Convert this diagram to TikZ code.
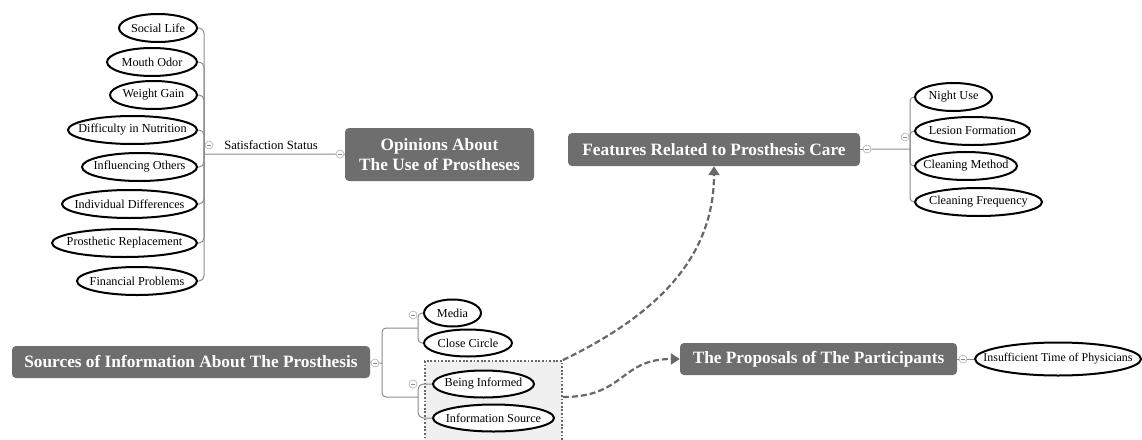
\documentclass[tikz,border=0pt]{standalone}
\usepackage{fontspec}
\setmainfont{Liberation Serif}
\usetikzlibrary{shapes.geometric,arrows.meta}
\definecolor{boxgray}{HTML}{6E6E6E}
\definecolor{linegray}{HTML}{8C8C8C}
\definecolor{dashgray}{HTML}{686868}
\begin{document}
\begin{tikzpicture}[x=1pt,y=-1pt,
  el/.style={ellipse, draw=black, line width=2pt, fill=white, inner xsep=-80pt, inner ysep=-30pt,
    minimum height=28pt, font=\fontsize{12.2}{13}\selectfont},
  box/.style={rectangle, rounded corners=4pt, fill=boxgray, text=white, inner sep=0pt,
    font=\fontsize{17.3}{20}\selectfont\bfseries, align=center},
  conn/.style={draw=linegray, line width=1pt},
  coll/.style={circle, draw=linegray!70, line width=0.6pt, minimum size=8pt, inner sep=0pt, fill=white,
    path picture={\draw[linegray, line width=0.6pt] ([xshift=-2pt]path picture bounding box.center) -- ([xshift=2pt]path picture bounding box.center);}},
  dasharrow/.style={draw=dashgray, line width=2.2pt, dash pattern=on 6pt off 3pt,
    -{Triangle[length=9pt,width=11pt]}},
  lbl/.style={font=\fontsize{12.6}{13}\selectfont, inner sep=0pt}]
\useasboundingbox (0,0) rectangle (1142,439);
\clip (0,0) rectangle (1142,439);
\fill[white] (0,0) rectangle (1142,439);

% main topic boxes
\node[box, minimum width=189pt, minimum height=53pt] (op) at (439.5,154.5) {Opinions About\\The Use of Prostheses};
\node[box, minimum width=292pt, minimum height=33pt] (feat) at (714,149.5) {Features Related to Prosthesis Care};
\node[box, minimum width=358pt, minimum height=32pt] (src) at (191,362) {Sources of Information About The Prosthesis};
\node[box, minimum width=277pt, minimum height=32pt] (prop) at (818.5,359) {The Proposals of The Participants};

% dotted group
\node[draw=dashgray, line width=1.8pt, dash pattern=on 1.8pt off 1.8pt, fill=gray!12,
  minimum width=137pt, minimum height=86pt, inner sep=0pt] (grp) at (493.5,404) {};

% left ellipses
\node[el, minimum width=78pt]  (sl) at (158,28)   {Social Life};
\node[el, minimum width=90pt]  (mo) at (152,62)   {Mouth Odor};
\node[el, minimum width=87pt]  (wg) at (153.5,95) {Weight Gain};
\node[el, minimum width=129pt] (dn) at (132.5,130) {Difficulty in Nutrition};
\node[el, minimum width=115pt] (io) at (139.5,167) {Influencing Others};
\node[el, minimum width=135pt] (id) at (129.5,204) {Individual Differences};
\node[el, minimum width=145pt] (pr) at (124.5,243) {Prosthetic Replacement};
\node[el, minimum width=120pt] (fp) at (137,281)  {Financial Problems};

% right ellipses
\node[el, minimum width=77pt]  (nu) at (953.5,97)  {Night Use};
\node[el, minimum width=115pt] (lf) at (972.5,131) {Lesion Formation};
\node[el, minimum width=102pt] (cm) at (966,166)   {Cleaning Method};
\node[el, minimum width=127pt] (cf) at (978.5,202) {Cleaning Frequency};

% bottom ellipses
\node[el, minimum width=57pt, minimum height=27pt]  (me) at (452.5,313) {Media};
\node[el, minimum width=88pt, minimum height=27pt]  (cc) at (468,343)   {Close Circle};
\node[el, minimum width=101pt, minimum height=27pt] (bi) at (483.5,384) {Being Informed};
\node[el, minimum width=121pt, minimum height=27pt] (is) at (493.5,418) {Information Source};

\node[el, minimum width=166pt, minimum height=33pt, font=\fontsize{11.9}{13}\selectfont] (ins) at (1058,359) {Insufficient Time of Physicians};

% label
\node[lbl] (sat) at (271,145) {Satisfaction Status};

% collapse markers
\node[coll] (m1) at (209,145) {};
\node[coll] (m2) at (340,154) {};
\node[coll] (m3) at (867,149) {};
\node[coll] (m4) at (905,137) {};
\node[coll] (m5) at (375,363) {};
\node[coll] (m6) at (413,315) {};
\node[coll] (m7) at (413,384) {};
\node[coll] (m8) at (963,359) {};

% junctions
\coordinate (lj) at (204,154);
\coordinate (fj) at (910,149);
\coordinate (bj) at (382,363);
\coordinate (t1) at (418,328);
\coordinate (t2) at (418,397);

% left group connectors
\draw[conn] (op.west) -- (m2) -- (lj);
\foreach \n in {sl,mo,wg,dn,io,id,pr,fp}
  \draw[conn, rounded corners=5pt] (lj) |- (\n.east);

% right group connectors
\draw[conn] (feat.east) -- (m3) -- (fj);
\foreach \n in {nu,lf,cm,cf}
  \draw[conn, rounded corners=4pt] (fj) |- (\n.west);

% bottom connectors
\draw[conn] (src.east) -- (m5) -- (bj);
\draw[conn, rounded corners=4pt] (bj) |- (t1);
\draw[conn, rounded corners=4pt] (bj) |- (t2);
\draw[conn, rounded corners=4pt] (t1) |- (me.west);
\draw[conn, rounded corners=4pt] (t1) |- (cc.west);
\draw[conn, rounded corners=6pt] (t2) |- (bi.west);
\draw[conn, rounded corners=6pt] (t2) |- (is.west);

% proposals connector
\draw[conn] (prop.east) -- (m8) -- (ins.west);

% dashed arrows
\draw[dasharrow] (grp.north east) .. controls (650,318) and (714,262) .. (feat.south);
\draw[dasharrow] ([yshift=7pt]grp.east) .. controls (625,397) and (620,359) .. (prop.west);
\end{tikzpicture}
\end{document}
